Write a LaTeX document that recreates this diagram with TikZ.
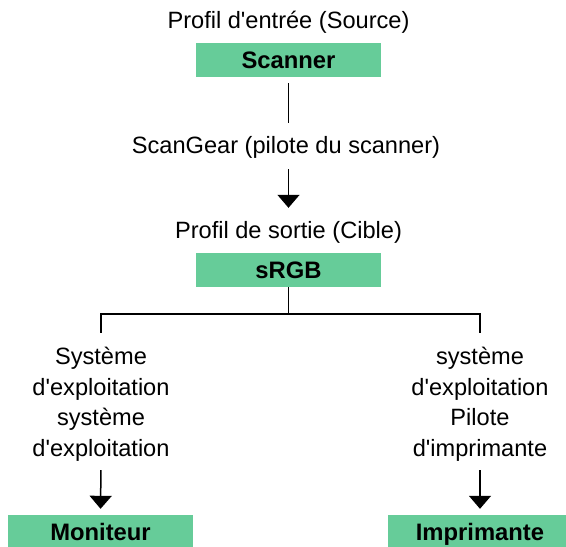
\documentclass[tikz,border=0pt]{standalone}
\usepackage{fontspec}
\setmainfont{Liberation Sans}[Ligatures=TeXOff]
\usetikzlibrary{arrows.meta}
\definecolor{boxgreen}{RGB}{102,204,153}
\tikzset{
  lbl/.style={inner sep=0pt, font=\fontsize{23.6}{30.5}\selectfont, text height=17pt, text depth=5pt, anchor=base},
  multi/.style={inner sep=0pt, font=\fontsize{23.6}{30.5}\selectfont, align=center, anchor=north},
  gbox/.style={fill=boxgreen, minimum width=185pt, minimum height=34pt, inner sep=0pt,
    font=\fontsize{23.8}{28}\selectfont\bfseries, text height=16.5pt, text depth=0pt},
  conn/.style={line width=1.5pt},
  arr/.style={line width=1.5pt, -{Triangle[width=22pt,length=13pt]}},
}
\begin{document}
\begin{tikzpicture}[x=1pt,y=-1pt]
\useasboundingbox (0,0) rectangle (566,547);
\node[lbl] (src) at (288.5,28) {Profil d'entrée (Source)};
\node[gbox] (scanner) at (288.5,60) {Scanner};
\node[lbl] (drv) at (286,153) {ScanGear (pilote du scanner)};
\node[lbl] (tgt) at (288.5,238) {Profil de sortie (Cible)};
\node[gbox] (srgb) at (288.5,270) {sRGB};
\coordinate (fork) at (288.5,314);
\node[multi] (os) at (101,347) {Système\\d'exploitation\\système\\d'exploitation};
\node[multi] (pd) at (480,347) {système\\d'exploitation\\Pilote\\d'imprimante};
\node[gbox] (mon) at (100.5,532) {Moniteur};
\node[gbox] (prn) at (480,532) {Imprimante};
\draw[conn, shorten <=6pt, shorten >=13pt] (scanner.south) -- (drv.north -| scanner.south);
\draw[arr, shorten <=11pt, shorten >=13pt] (drv.south -| scanner.south) -- (tgt.north -| scanner.south);
\draw[conn] (srgb.south) -- (fork);
\draw[conn, shorten >=14pt] (fork) -| (os.north);
\draw[conn, shorten >=14pt] (fork) -| (pd.north);
\draw[arr, shorten <=9pt, shorten >=6pt] (os.south) -- (mon.north);
\draw[arr, shorten <=9pt, shorten >=6pt] (pd.south) -- (prn.north);
\end{tikzpicture}
\end{document}
